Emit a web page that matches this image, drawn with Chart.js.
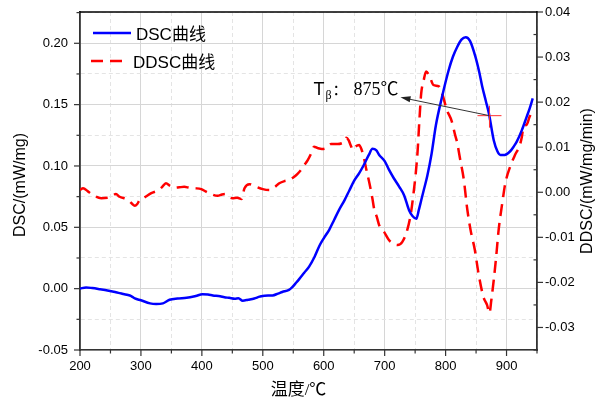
<!DOCTYPE html>
<html>
<head>
<meta charset="utf-8">
<script src="https://cdn.jsdelivr.net/npm/chart.js@4.4.1/dist/chart.umd.min.js"></script>
<style>
  html, body { margin: 0; padding: 0; background: #fff; }
</style>
</head>
<body>
<canvas id="c" width="598" height="407"></canvas>
<script>
"use strict";

// DSC curve (left axis, mW/mg)
const dscTemp = [200, 210, 220, 233, 245, 259, 268, 277, 284, 290, 300, 315, 325, 336, 347, 360, 375, 390, 401, 410,
  418, 430, 437, 445, 454, 460, 467, 476, 486, 495, 503, 516, 525, 532, 543, 548, 555, 560, 568, 576,
  585, 593, 600, 609, 617, 625, 634, 642, 650, 658, 666, 674, 680, 686, 691, 700, 707, 715, 724, 732,
  740, 746, 752, 756, 760, 764, 770, 777, 784, 794, 805, 812, 819, 826, 833, 840, 849, 855, 860, 866,
  871, 879, 885, 890, 897, 906, 912, 917, 925, 933, 938, 943];
const dscVal = [0.000, 0.001, 0.0005, -0.0005, -0.0015, -0.003, -0.004, -0.005, -0.006, -0.008, -0.0095, -0.012, -0.0125, -0.012, -0.009, -0.008, -0.0075, -0.006, -0.0046, -0.0048,
  -0.0055, -0.0062, -0.007, -0.0075, -0.0082, -0.0078, -0.0098, -0.009, -0.008, -0.0065, -0.0057, -0.0055, -0.004, -0.0027, -0.001, 0.001, 0.005, 0.008, 0.013, 0.018,
  0.026, 0.035, 0.041, 0.048, 0.056, 0.064, 0.072, 0.080, 0.088, 0.094, 0.101, 0.109, 0.114, 0.113, 0.109, 0.104, 0.097, 0.090, 0.083, 0.076,
  0.064, 0.059, 0.057, 0.064, 0.072, 0.080, 0.092, 0.110, 0.133, 0.156, 0.178, 0.189, 0.197, 0.203, 0.205, 0.202, 0.189, 0.177, 0.165, 0.153,
  0.143, 0.121, 0.112, 0.109, 0.109, 0.112, 0.116, 0.120, 0.129, 0.140, 0.147, 0.155];

// DDSC curve (right axis, mW/mg/min)
const ddscTemp = [200, 205, 213, 221, 235, 245, 251, 259, 265, 278, 285, 290, 294, 298, 305, 317, 328, 335, 341, 348,
  355, 363, 371, 380, 388, 399, 406, 415, 426, 433, 439, 445, 450, 458, 465, 470, 478, 486, 500, 511,
  520, 527, 536, 543, 550, 557, 563, 568, 574, 580, 584, 590, 597, 604, 612, 623, 630, 634, 637, 641,
  644, 648, 652, 658, 662, 666, 670, 675, 680, 683, 687, 691, 699, 707, 714, 721, 729, 737, 743, 748,
  751, 754, 757, 760, 764, 768, 772, 775, 780, 789, 795, 802, 810, 816, 819, 824, 830, 835, 841, 848,
  854, 862, 868, 872, 875, 879, 883, 887, 893, 898, 906, 914, 922, 925, 928, 933, 938, 943];
const ddscVal = [0.0005, 0.0009, 0.0002, -0.0006, -0.0013, -0.0012, -0.001, -0.0004, -0.001, -0.0016, -0.0025, -0.003, -0.0026, -0.0017, -0.0012, -0.0002, 0.0004, 0.0012, 0.002, 0.0014,
  0.001, 0.0011, 0.0012, 0.001, 0.0009, 0.0007, 0.0002, -0.0004, -0.0008, -0.0005, -0.0004, -0.0011, -0.0013, -0.0012, -0.0015, 0.0009, 0.0018, 0.0014, 0.0007, 0.0005,
  0.0012, 0.002, 0.0025, 0.0027, 0.0033, 0.0041, 0.005, 0.006, 0.0072, 0.0088, 0.0101, 0.0098, 0.0096, 0.0098, 0.0107, 0.0107, 0.0109, 0.0112, 0.0121, 0.0115,
  0.0105, 0.0094, 0.0101, 0.0105, 0.0095, 0.0076, 0.005, 0.002, -0.0015, -0.0039, -0.0054, -0.0073, -0.0088, -0.0106, -0.0114, -0.0117, -0.011, -0.0084, -0.0047, 0.0005,
  0.0042, 0.009, 0.016, 0.022, 0.0248, 0.0268, 0.0262, 0.0253, 0.0238, 0.0235, 0.0216, 0.0183, 0.0158, 0.0125, 0.011, 0.0072, 0.0027, -0.0032, -0.0084, -0.0128,
  -0.018, -0.0232, -0.025, -0.0268, -0.024, -0.0195, -0.0143, -0.0084, -0.0024, 0.002, 0.0057, 0.0083, 0.0105, 0.0122, 0.0146, 0.015, 0.0168, 0.018];

// axis ranges: [min, max, minor step, major step]
const xRange = [200, 950, 50, 100];
const leftRange = [-0.05, 0.2255, 0.025, 0.05];
const rightRange = [-0.035, 0.04, 0.005, 0.01];

const seriesNames = ["DSC曲线", "DDSC曲线"];
const axisTitles = { x: "温度/℃", y: "DSC/(mW/mg)", y1: "DDSC/(mW/mg/min)" };

// T-beta marker: cross on the DSC curve, arrow to the label
const markerT = 872, markerDsc = 0.141;
const arrowTipT = 726, arrowTipDsc = 0.156;

const BLUE = "#0000ff";
const RED = "#ff0000";
const AXIS = "#333333";
const SANS = '"Liberation Sans", Arial, "Noto Sans CJK SC", sans-serif';
const SERIF = '"Liberation Serif", "Times New Roman", "Noto Sans CJK SC", serif';

const isMajor = (v, step) => Math.abs(v / step - Math.round(v / step)) < 1e-6;

function pts(xs, ys) {
  return xs.map((t, i) => ({ x: t, y: ys[i] }));
}

function gridOpts(major) {
  return {
    display: true,
    drawTicks: false,
    drawOnChartArea: true,
    color: c => isMajor(c.tick.value, major) ? "#d6d6d6" : "#e4e4e4",
    lineWidth: 1,
  };
}

function fmt(v, major) {
  return isMajor(v, major) ? v.toFixed(2) : "";
}

// no extra room for half-labels: the frame is placed by the fixed sizes
function fixY(width) {
  return s => { s.width = width; s.paddingTop = 0; s.paddingBottom = 0; };
}

const overlay = {
  id: "overlay",
  afterDraw(chart) {
    const { ctx, chartArea: a, scales } = chart;
    const sx = scales.x, sy = scales.y, sy1 = scales.y1;

    function seg(x1, y1, x2, y2) {
      ctx.beginPath(); ctx.moveTo(x1, y1); ctx.lineTo(x2, y2); ctx.stroke();
    }

    ctx.save();
    // top frame
    ctx.strokeStyle = "#000";
    ctx.lineWidth = 1.5;
    seg(a.left - 0.75, a.top, a.right + 0.75, a.top);

    // tick marks
    ctx.strokeStyle = AXIS;
    ctx.lineWidth = 1.2;
    sx.ticks.forEach(t => {
      const p = sx.getPixelForValue(t.value);
      seg(p, a.bottom, p, a.bottom + (isMajor(t.value, xRange[3]) ? 6 : 3.5));
    });
    sy.ticks.forEach(t => {
      const p = sy.getPixelForValue(t.value);
      seg(a.left, p, a.left - (isMajor(t.value, leftRange[3]) ? 6 : 3.5), p);
    });
    sy1.ticks.forEach(t => {
      const p = sy1.getPixelForValue(t.value);
      if (isMajor(t.value, rightRange[3])) seg(a.right, p, a.right + 6, p);
      else seg(a.right, p, a.right - 3.5, p);
    });

    // legend
    const lx = a.left + 12;
    ctx.lineWidth = 2.5;
    ctx.strokeStyle = BLUE;
    seg(lx + 1, a.top + 21, lx + 39, a.top + 21);
    ctx.strokeStyle = RED;
    ctx.setLineDash([12, 7]);
    seg(lx - 1, a.top + 49, lx + 37, a.top + 49);
    ctx.setLineDash([]);
    ctx.fillStyle = "#000";
    ctx.font = "17px " + SANS;
    ctx.textAlign = "left";
    ctx.textBaseline = "alphabetic";
    ctx.fillText(seriesNames[0], lx + 44, a.top + 27.5);
    ctx.fillText(seriesNames[1], lx + 41, a.top + 55.5);

    // axis titles
    ctx.textAlign = "center";
    ctx.textBaseline = "middle";
    const midY = (a.top + a.bottom) / 2;
    ctx.font = "16px " + SANS;
    ctx.save();
    ctx.translate(21, midY + 4);
    ctx.rotate(-Math.PI / 2);
    ctx.fillText(axisTitles.y, 0, 0);
    ctx.restore();
    ctx.save();
    ctx.translate(587.5, midY);
    ctx.rotate(-Math.PI / 2);
    ctx.fillText(axisTitles.y1, 0, 0);
    ctx.restore();
    ctx.font = "17px " + SERIF;
    ctx.fillText(axisTitles.x, (a.left + a.right) / 2 - 10, a.bottom + 41);

    // T-beta marker
    const cx = sx.getPixelForValue(markerT), cy = sy.getPixelForValue(markerDsc);
    const tx = sx.getPixelForValue(arrowTipT), ty = sy.getPixelForValue(arrowTipDsc);
    ctx.strokeStyle = "#ff3030";
    ctx.lineWidth = 1;
    seg(cx - 12, cy, cx + 12, cy);
    seg(cx, cy - 10, cx, cy + 12);
    ctx.strokeStyle = "#333";
    seg(cx, cy, tx + 6, ty + 1.3);
    const ang = Math.atan2(ty - cy, tx - cx);
    ctx.fillStyle = "#222";
    ctx.beginPath();
    ctx.moveTo(tx, ty);
    ctx.lineTo(tx - 10 * Math.cos(ang) + 3 * Math.sin(ang), ty - 10 * Math.sin(ang) - 3 * Math.cos(ang));
    ctx.lineTo(tx - 10 * Math.cos(ang) - 3 * Math.sin(ang), ty - 10 * Math.sin(ang) + 3 * Math.cos(ang));
    ctx.closePath();
    ctx.fill();

    const t0 = tx - 87, base = ty - 2.3;
    ctx.fillStyle = "#000";
    ctx.textAlign = "left";
    ctx.textBaseline = "alphabetic";
    ctx.font = "18px " + SANS;
    ctx.fillText("T", t0, base);
    ctx.font = "12px " + SERIF;
    ctx.fillText("β", t0 + 12, base + 4);
    ctx.font = "15px " + SANS;
    ctx.fillText("：", t0 + 19, base);
    ctx.font = "18px " + SERIF;
    ctx.fillText("875℃", t0 + 40, base);
    ctx.restore();
  },
};

new Chart(document.getElementById("c"), {
  type: "line",
  data: {
    datasets: [
      {
        label: seriesNames[0], data: pts(dscTemp, dscVal), yAxisID: "y",
        borderColor: BLUE, borderWidth: 2.5, pointRadius: 0, cubicInterpolationMode: "monotone",
      },
      {
        label: seriesNames[1], data: pts(ddscTemp, ddscVal), yAxisID: "y1",
        borderColor: RED, borderWidth: 2.5, borderDash: [12, 7], pointRadius: 0, cubicInterpolationMode: "monotone",
      },
    ],
  },
  options: {
    responsive: false,
    animation: false,
    devicePixelRatio: 1,
    layout: { padding: { top: 12, left: 0, right: 0, bottom: 0 } },
    plugins: { legend: { display: false }, tooltip: { enabled: false } },
    scales: {
      x: {
        type: "linear", position: "bottom",
        min: xRange[0], max: xRange[1],
        afterFit: s => { s.height = 57; s.paddingLeft = 0; s.paddingRight = 0; },
        ticks: {
          stepSize: xRange[2], autoSkip: false, maxRotation: 0, padding: 9, includeBounds: false,
          color: "#000", font: { family: SANS, size: 13 },
          callback: v => isMajor(v, xRange[3]) ? String(v) : "",
        },
        grid: gridOpts(xRange[3]),
        border: { display: true, color: AXIS, width: 1.5, dash: c => isMajor(c.tick.value, xRange[3]) ? [] : [4, 3] },
      },
      y: {
        type: "linear", position: "left",
        min: leftRange[0], max: leftRange[1],
        afterFit: fixY(80),
        ticks: {
          stepSize: leftRange[2], autoSkip: false, padding: 12, includeBounds: false,
          color: "#000", font: { family: SANS, size: 13 },
          callback: v => fmt(v, leftRange[3]),
        },
        grid: gridOpts(leftRange[3]),
        border: { display: true, color: AXIS, width: 1.8, dash: c => isMajor(c.tick.value, leftRange[3]) ? [] : [4, 3] },
      },
      y1: {
        type: "linear", position: "right",
        min: rightRange[0], max: rightRange[1],
        afterFit: fixY(61),
        ticks: {
          stepSize: rightRange[2], autoSkip: false, padding: 8, includeBounds: false,
          color: "#000", font: { family: SANS, size: 13 },
          callback: v => fmt(v, rightRange[3]),
        },
        grid: { display: false, drawTicks: false },
        border: { display: true, color: AXIS, width: 1.8 },
      },
    },
  },
  plugins: [overlay],
});
</script>
</body>
</html>
